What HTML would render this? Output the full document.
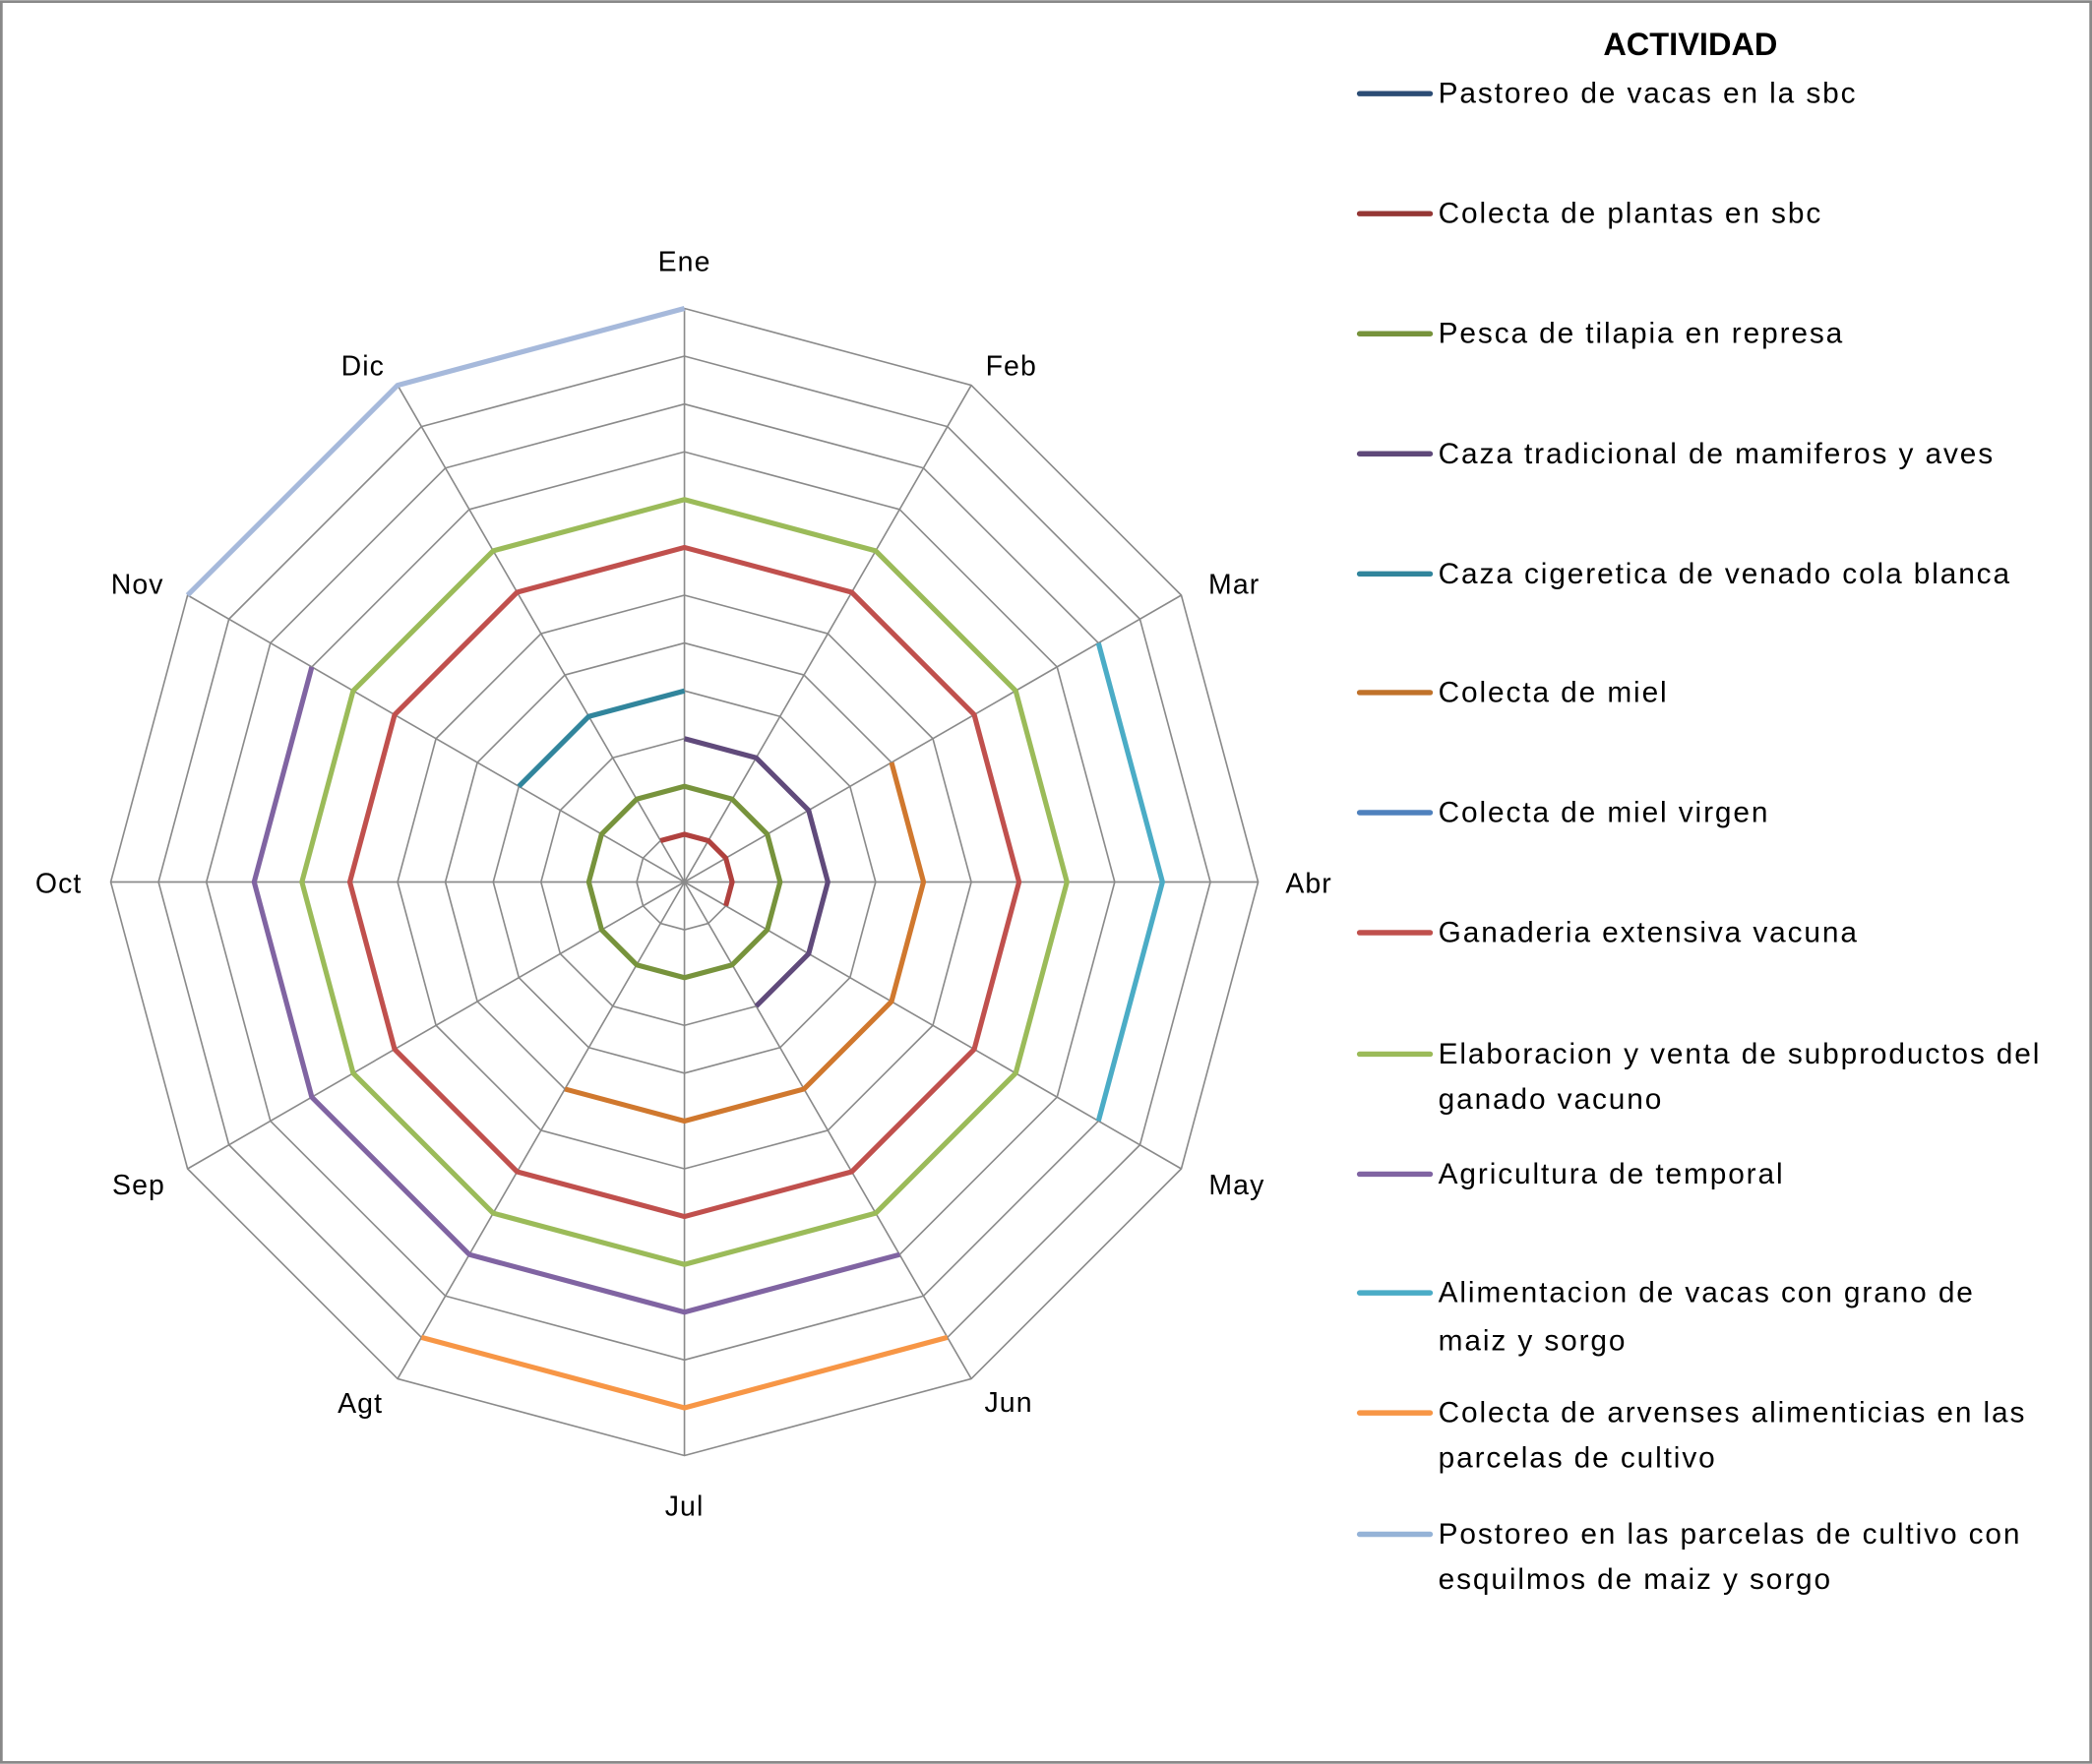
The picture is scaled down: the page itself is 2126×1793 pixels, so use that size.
<!DOCTYPE html>
<html><head><meta charset="utf-8"><style>
html,body{margin:0;padding:0;background:#fff}
svg{display:block}
text{font-family:"Liberation Sans",sans-serif;font-size:21px;fill:#000}
.lg text{font-size:22px;letter-spacing:1.4px}
</style></head><body>
<svg id="s" width="2126" height="1793" viewBox="0 0 1568 1322" xmlns="http://www.w3.org/2000/svg">
<rect x="1" y="1" width="1566" height="1320" fill="#fff" stroke="#888" stroke-width="2"/>
<g id="grid"></g>
<g id="series"></g>
<g text-anchor="middle" style="letter-spacing:0.8px">
<text x="513" y="203">Ene</text>
<text x="758" y="281">Feb</text>
<text x="925" y="445">Mar</text>
<text x="981" y="669">Abr</text>
<text x="927" y="895">May</text>
<text x="756" y="1058">Jun</text>
<text x="513" y="1136">Jul</text>
<text x="270" y="1059">Agt</text>
<text x="104" y="895">Sep</text>
<text x="44" y="669">Oct</text>
<text x="103" y="445">Nov</text>
<text x="272" y="281">Dic</text>
</g>
<text x="1267" y="41" text-anchor="middle" style="font-weight:bold;font-size:24px">ACTIVIDAD</text>
<g stroke-width="4" stroke-linecap="round">
<line x1="1019" y1="70" x2="1072" y2="70" stroke="#2C4D75"/>
<line x1="1019" y1="160" x2="1072" y2="160" stroke="#953735"/>
<line x1="1019" y1="250" x2="1072" y2="250" stroke="#77933C"/>
<line x1="1019" y1="340" x2="1072" y2="340" stroke="#5F497A"/>
<line x1="1019" y1="430" x2="1072" y2="430" stroke="#31859C"/>
<line x1="1019" y1="519" x2="1072" y2="519" stroke="#C0722A"/>
<line x1="1019" y1="609" x2="1072" y2="609" stroke="#4F81BD"/>
<line x1="1019" y1="699" x2="1072" y2="699" stroke="#C0504D"/>
<line x1="1019" y1="790" x2="1072" y2="790" stroke="#9BBB59"/>
<line x1="1019" y1="880" x2="1072" y2="880" stroke="#8064A2"/>
<line x1="1019" y1="969" x2="1072" y2="969" stroke="#4BACC6"/>
<line x1="1019" y1="1059" x2="1072" y2="1059" stroke="#F79646"/>
<line x1="1019" y1="1150" x2="1072" y2="1150" stroke="#95B3D7"/>
</g>
<g class="lg">
<text x="1078" y="77">Pastoreo  de vacas en la sbc</text>
<text x="1078" y="167">Colecta de plantas en sbc</text>
<text x="1078" y="257">Pesca de tilapia en represa</text>
<text x="1078" y="347">Caza tradicional de mamiferos y aves</text>
<text x="1078" y="437">Caza cigeretica de venado cola blanca</text>
<text x="1078" y="526">Colecta de miel</text>
<text x="1078" y="616">Colecta de miel virgen</text>
<text x="1078" y="706">Ganaderia extensiva vacuna</text>
<text x="1078" y="797">Elaboracion y venta de subproductos del</text>
<text x="1078" y="831">ganado vacuno</text>
<text x="1078" y="887">Agricultura de temporal</text>
<text x="1078" y="976">Alimentacion de  vacas con grano  de</text>
<text x="1078" y="1012">maiz y sorgo</text>
<text x="1078" y="1066">Colecta de arvenses alimenticias en las</text>
<text x="1078" y="1100">parcelas de cultivo</text>
<text x="1078" y="1157">Postoreo en las parcelas de cultivo con</text>
<text x="1078" y="1191">esquilmos de maiz y sorgo</text>
</g>
<script>
(function(){
var cx=513,cy=661,step=430/12,NS="http://www.w3.org/2000/svg";
function pt(i,k){var a=i*Math.PI/6,r=k*step;return (cx+r*Math.sin(a)).toFixed(1)+","+(cy-r*Math.cos(a)).toFixed(1);}
var g=document.getElementById("grid"),s=document.getElementById("series");
function add(p,pts,col,w,closed){var e=document.createElementNS(NS,closed?"polygon":"polyline");e.setAttribute("points",pts.join(" "));e.setAttribute("fill","none");e.setAttribute("stroke",col);e.setAttribute("stroke-width",w);e.setAttribute("stroke-linejoin","round");p.appendChild(e);}
for(var k=1;k<=12;k++){var a=[];for(var i=0;i<12;i++)a.push(pt(i,k));add(g,a,"#8a8a8a",1.2,true);}
for(var i=0;i<12;i++)add(g,[pt(0,0),pt(i,12)],"#8a8a8a",1.2,false);
function ser(months,k,col){var a=months.map(function(m){return pt(m,k);});add(s,a,col,3.8,months.length===13);}
var full=[0,1,2,3,4,5,6,7,8,9,10,11,0];
ser(full,8,"#9BBB59");
ser(full,7,"#C0504D");
ser(full,2,"#77933C");
ser([11,0,1,2,3,4],1,"#B0413E");
ser([0,1,2,3,4,5],3,"#604A7B");
ser([10,11,0],4,"#31859C");
ser([2,3,4,5,6,7],5,"#D0782E");
ser([10,9,8,7,6,5],9,"#8064A2");
ser([2,3,4],10,"#4BACC6");
ser([7,6,5],11,"#F79646");
ser([10,11,0],12,"#A6B9DB");
})();
</script>
</svg>
</body></html>
